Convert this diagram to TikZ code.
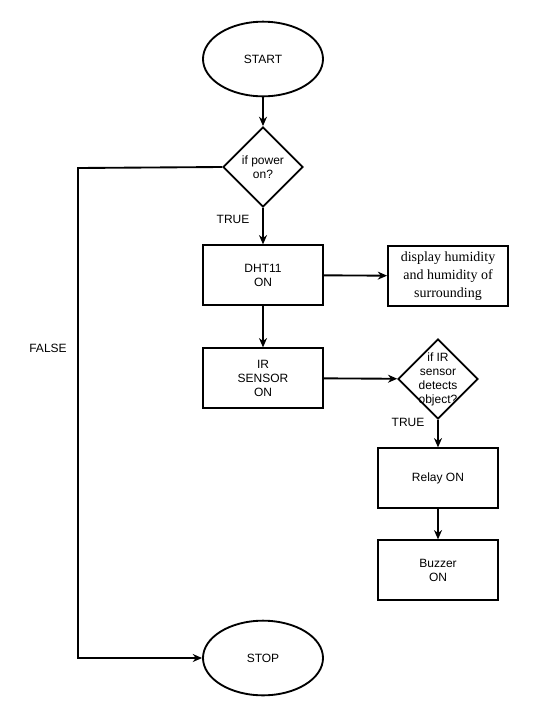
\documentclass[tikz,border=0pt]{standalone}
\usepackage{fontspec}
\setmainfont{Liberation Sans}
\newfontfamily\dispfont{Liberation Serif}
\usetikzlibrary{shapes.geometric,arrows.meta}

\begin{document}
\begin{tikzpicture}[>={Stealth[length=7pt,width=6pt]},x=0.75pt,y=-0.75pt,
    every node/.style={font=\fontsize{9}{10.5}\selectfont},
    flow/.style={line width=1.4pt},
    term/.style={ellipse,draw,line width=1.4pt,minimum width=90pt,minimum height=56pt,inner sep=0pt},
    proc/.style={rectangle,draw,line width=1.4pt,minimum width=90pt,minimum height=44.5pt,inner sep=0pt,align=center},
    dec/.style={diamond,draw,line width=1.4pt,minimum width=60pt,minimum height=60pt,inner sep=0pt}]
	  \fill[white] (0,0) rectangle (541,711);
	  \useasboundingbox (0,0) rectangle (541,711);
	  \node[term] (start) at (263,59) {START};
	  \node[dec,label={[align=center]center:if power\\on?}] (power) at (263,167) {};
	  \node[proc] (dht) at (263,275) {DHT11\\ON};
	  \node[proc,font=\dispfont\fontsize{10.5}{13.5}\selectfont] (disp) at (448,276) {display humidity\\and humidity of\\surrounding};
	  \node[proc] (ir) at (263,378) {IR\\SENSOR\\ON};
	  \node[dec,label={[align=center]center:if IR\\sensor\\detects\\object?}] (irdec) at (438,379) {};
	  \node[proc] (relay) at (438,478) {Relay ON};
	  \node[proc] (buzz) at (438,570) {Buzzer\\ON};
	  \node[term] (stop) at (263,658) {STOP};
	  \node (true1) at (233,219) {TRUE};
	  \node (true2) at (408,422) {TRUE};
	  \node (false) at (48,348) {FALSE};
	  \coordinate (c1) at (78,168);
	  \coordinate (c2) at (78,658);
	  \draw[flow,->] (start) -- (power);
	  \draw[flow,->] (power) -- (dht);
	  \draw[flow,->] (dht) -- (disp);
	  \draw[flow,->] (dht) -- (ir);
	  \draw[flow,->] (ir) -- (irdec);
	  \draw[flow,->] (irdec) -- (relay);
	  \draw[flow,->] (relay) -- (buzz);
	  \draw[flow,->] (power.west) -- (c1) -- (c2) -- (stop.west);
	\end{tikzpicture}
\end{document}
